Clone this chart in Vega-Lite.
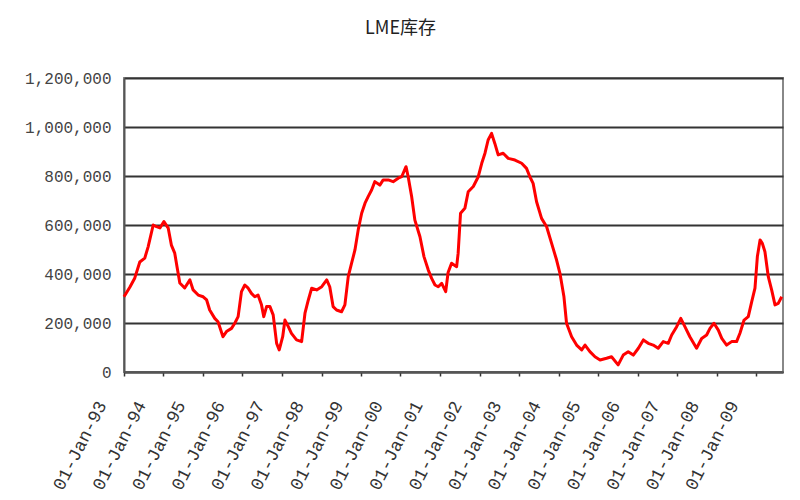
{
  "$schema": "https://vega.github.io/schema/vega-lite/v6.json",
  "width": 659,
  "height": 294,
  "autosize": {"type": "none"},
  "padding": {"left": 124, "top": 78, "right": 17, "bottom": 128},
  "background": "white",
  "title": {
    "text": "LME库存",
    "font": "Noto Sans CJK SC",
    "fontSize": 18,
    "fontWeight": "normal",
    "color": "#222",
    "anchor": "middle",
    "dx": -53,
    "offset": 32
  },
  "config": {
    "view": {"stroke": "#888", "strokeWidth": 2},
    "axis": {"labelFont": "Liberation Mono", "labelColor": "#444"}
  },
  "data": {
    "values": [
      {"date": "1993-01-01", "stock": 307000},
      {"date": "1993-02-25", "stock": 347000},
      {"date": "1993-04-11", "stock": 384000},
      {"date": "1993-05-27", "stock": 449000},
      {"date": "1993-07-12", "stock": 465000},
      {"date": "1993-08-12", "stock": 511000},
      {"date": "1993-09-28", "stock": 600000},
      {"date": "1993-10-29", "stock": 593000},
      {"date": "1993-11-29", "stock": 588000},
      {"date": "1994-01-05", "stock": 614000},
      {"date": "1994-02-14", "stock": 587000},
      {"date": "1994-03-15", "stock": 518000},
      {"date": "1994-04-15", "stock": 485000},
      {"date": "1994-05-06", "stock": 430000},
      {"date": "1994-06-01", "stock": 363000},
      {"date": "1994-07-16", "stock": 343000},
      {"date": "1994-09-02", "stock": 376000},
      {"date": "1994-10-02", "stock": 335000},
      {"date": "1994-11-18", "stock": 314000},
      {"date": "1995-01-03", "stock": 307000},
      {"date": "1995-02-04", "stock": 294000},
      {"date": "1995-03-04", "stock": 253000},
      {"date": "1995-04-20", "stock": 219000},
      {"date": "1995-05-20", "stock": 205000},
      {"date": "1995-07-05", "stock": 144000},
      {"date": "1995-08-06", "stock": 165000},
      {"date": "1995-09-22", "stock": 178000},
      {"date": "1995-10-22", "stock": 199000},
      {"date": "1995-11-22", "stock": 226000},
      {"date": "1995-12-23", "stock": 328000},
      {"date": "1996-01-23", "stock": 355000},
      {"date": "1996-02-23", "stock": 342000},
      {"date": "1996-03-24", "stock": 321000},
      {"date": "1996-04-24", "stock": 307000},
      {"date": "1996-05-24", "stock": 314000},
      {"date": "1996-06-25", "stock": 274000},
      {"date": "1996-07-16", "stock": 226000},
      {"date": "1996-08-11", "stock": 267000},
      {"date": "1996-09-11", "stock": 267000},
      {"date": "1996-10-11", "stock": 233000},
      {"date": "1996-11-12", "stock": 117000},
      {"date": "1996-12-06", "stock": 90000},
      {"date": "1997-01-07", "stock": 144000},
      {"date": "1997-01-28", "stock": 212000},
      {"date": "1997-02-28", "stock": 185000},
      {"date": "1997-03-29", "stock": 158000},
      {"date": "1997-05-15", "stock": 131000},
      {"date": "1997-07-01", "stock": 124000},
      {"date": "1997-08-01", "stock": 240000},
      {"date": "1997-09-01", "stock": 294000},
      {"date": "1997-10-02", "stock": 342000},
      {"date": "1997-11-17", "stock": 335000},
      {"date": "1998-01-03", "stock": 348000},
      {"date": "1998-02-18", "stock": 376000},
      {"date": "1998-03-18", "stock": 348000},
      {"date": "1998-04-18", "stock": 267000},
      {"date": "1998-05-20", "stock": 253000},
      {"date": "1998-07-05", "stock": 246000},
      {"date": "1998-08-05", "stock": 274000},
      {"date": "1998-09-05", "stock": 389000},
      {"date": "1998-10-06", "stock": 444000},
      {"date": "1998-11-06", "stock": 498000},
      {"date": "1998-12-06", "stock": 580000},
      {"date": "1999-01-07", "stock": 648000},
      {"date": "1999-02-07", "stock": 689000},
      {"date": "1999-03-08", "stock": 716000},
      {"date": "1999-04-09", "stock": 743000},
      {"date": "1999-05-09", "stock": 777000},
      {"date": "1999-06-24", "stock": 763000},
      {"date": "1999-07-25", "stock": 784000},
      {"date": "1999-09-10", "stock": 784000},
      {"date": "1999-10-25", "stock": 777000},
      {"date": "1999-12-11", "stock": 791000},
      {"date": "2000-01-12", "stock": 797000},
      {"date": "2000-02-21", "stock": 838000},
      {"date": "2000-03-12", "stock": 797000},
      {"date": "2000-04-13", "stock": 716000},
      {"date": "2000-05-13", "stock": 620000},
      {"date": "2000-06-29", "stock": 552000},
      {"date": "2000-08-05", "stock": 471000},
      {"date": "2000-09-14", "stock": 416000},
      {"date": "2000-10-15", "stock": 382000},
      {"date": "2000-11-15", "stock": 355000},
      {"date": "2000-12-15", "stock": 348000},
      {"date": "2001-01-16", "stock": 362000},
      {"date": "2001-02-22", "stock": 328000},
      {"date": "2001-03-16", "stock": 406000},
      {"date": "2001-04-17", "stock": 444000},
      {"date": "2001-06-03", "stock": 430000},
      {"date": "2001-06-17", "stock": 485000},
      {"date": "2001-07-09", "stock": 648000},
      {"date": "2001-08-18", "stock": 668000},
      {"date": "2001-09-18", "stock": 736000},
      {"date": "2001-11-04", "stock": 757000},
      {"date": "2001-12-20", "stock": 797000},
      {"date": "2002-01-21", "stock": 852000},
      {"date": "2002-02-20", "stock": 893000},
      {"date": "2002-03-21", "stock": 947000},
      {"date": "2002-04-22", "stock": 974000},
      {"date": "2002-05-22", "stock": 933000},
      {"date": "2002-06-22", "stock": 886000},
      {"date": "2002-08-07", "stock": 893000},
      {"date": "2002-09-23", "stock": 872000},
      {"date": "2002-11-24", "stock": 865000},
      {"date": "2003-01-25", "stock": 852000},
      {"date": "2003-03-11", "stock": 831000},
      {"date": "2003-04-11", "stock": 797000},
      {"date": "2003-05-11", "stock": 770000},
      {"date": "2003-06-12", "stock": 695000},
      {"date": "2003-07-28", "stock": 627000},
      {"date": "2003-09-13", "stock": 593000},
      {"date": "2003-10-29", "stock": 525000},
      {"date": "2003-12-14", "stock": 457000},
      {"date": "2004-01-14", "stock": 403000},
      {"date": "2004-02-20", "stock": 307000},
      {"date": "2004-03-15", "stock": 199000},
      {"date": "2004-05-01", "stock": 144000},
      {"date": "2004-06-16", "stock": 110000},
      {"date": "2004-08-02", "stock": 90000},
      {"date": "2004-09-02", "stock": 110000},
      {"date": "2004-10-17", "stock": 83000},
      {"date": "2004-12-03", "stock": 62000},
      {"date": "2005-01-19", "stock": 49000},
      {"date": "2005-03-20", "stock": 56000},
      {"date": "2005-05-05", "stock": 62000},
      {"date": "2005-07-05", "stock": 29000},
      {"date": "2005-08-21", "stock": 69000},
      {"date": "2005-10-06", "stock": 83000},
      {"date": "2005-11-22", "stock": 69000},
      {"date": "2006-01-08", "stock": 97000},
      {"date": "2006-02-23", "stock": 131000},
      {"date": "2006-04-09", "stock": 117000},
      {"date": "2006-05-25", "stock": 110000},
      {"date": "2006-07-10", "stock": 97000},
      {"date": "2006-08-26", "stock": 124000},
      {"date": "2006-10-11", "stock": 117000},
      {"date": "2006-11-12", "stock": 151000},
      {"date": "2006-12-28", "stock": 185000},
      {"date": "2007-02-04", "stock": 219000},
      {"date": "2007-03-14", "stock": 185000},
      {"date": "2007-04-29", "stock": 144000},
      {"date": "2007-06-30", "stock": 97000},
      {"date": "2007-08-16", "stock": 137000},
      {"date": "2007-10-01", "stock": 151000},
      {"date": "2007-11-01", "stock": 178000},
      {"date": "2007-12-08", "stock": 199000},
      {"date": "2008-01-17", "stock": 171000},
      {"date": "2008-02-18", "stock": 137000},
      {"date": "2008-04-03", "stock": 110000},
      {"date": "2008-05-19", "stock": 124000},
      {"date": "2008-07-04", "stock": 124000},
      {"date": "2008-08-04", "stock": 158000},
      {"date": "2008-09-11", "stock": 212000},
      {"date": "2008-10-20", "stock": 226000},
      {"date": "2008-11-21", "stock": 287000},
      {"date": "2008-12-21", "stock": 342000},
      {"date": "2009-01-12", "stock": 471000},
      {"date": "2009-02-06", "stock": 539000},
      {"date": "2009-02-27", "stock": 525000},
      {"date": "2009-03-23", "stock": 491000},
      {"date": "2009-04-23", "stock": 389000},
      {"date": "2009-05-24", "stock": 335000},
      {"date": "2009-06-24", "stock": 274000},
      {"date": "2009-07-24", "stock": 280000},
      {"date": "2009-08-25", "stock": 307000}
    ]
  },
  "mark": {"type": "line", "color": "#ff0000", "strokeWidth": 3, "strokeJoin": "round"},
  "encoding": {
    "x": {
      "field": "date",
      "type": "temporal",
      "title": null,
      "scale": {"domain": ["1993-01-01", "2009-09-06"], "nice": false},
      "axis": {
        "tickCount": {"interval": "year", "step": 1},
        "format": "%d-%b-%y",
        "grid": false,
        "labelAngle": -63,
        "labelAlign": "right",
        "labelBaseline": "middle",
        "labelPadding": 26,
        "labelOffset": -22,
        "labelFontSize": 18,
        "labelColor": "#333",
        "labelOverlap": false,
        "labelBound": false,
        "labelFlush": false,
        "domainColor": "#555",
        "domainWidth": 2,
        "tickColor": "#333",
        "tickSize": 4,
        "tickWidth": 1.5
      }
    },
    "y": {
      "field": "stock",
      "type": "quantitative",
      "title": null,
      "scale": {"domain": [0, 1200000], "nice": false},
      "axis": {
        "values": [0, 200000, 400000, 600000, 800000, 1000000, 1200000],
        "format": ",d",
        "grid": true,
        "gridColor": "#333",
        "gridWidth": 2,
        "labelFontSize": 16,
        "labelPadding": 13,
        "domainColor": "#555",
        "domainWidth": 2,
        "ticks": false
      }
    }
  }
}
